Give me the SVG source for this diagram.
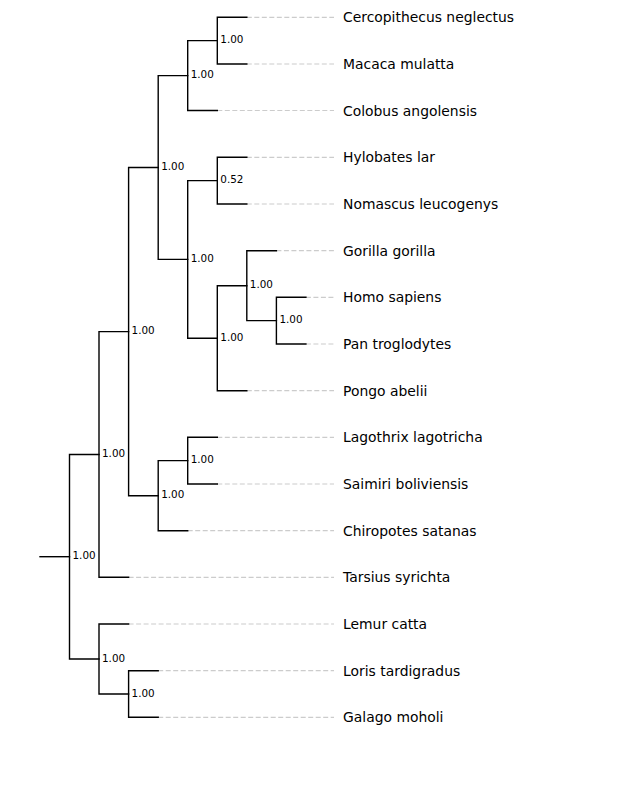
<svg xmlns="http://www.w3.org/2000/svg" width="640" height="797" viewBox="0 0 640 797">
<style>
.br{fill:none;stroke:#000;stroke-width:1.4;stroke-linecap:square;stroke-linejoin:miter}
.gd{fill:none;stroke:#cccccc;stroke-width:1.2;stroke-dasharray:5,2.5}
.lf{font-family:"DejaVu Sans",sans-serif;font-size:13.9px;fill:#000}
.sp{font-family:"DejaVu Sans",sans-serif;font-size:10.4px;fill:#000}
</style>
<rect width="640" height="797" fill="#fff"/>
<g id="connectors">
<g id="guides">
<path class="gd" d="M246.8,17.3H334"/>
<path class="gd" d="M246.8,64H334"/>
<path class="gd" d="M217.3,110.5H334"/>
<path class="gd" d="M246.8,157.3H334"/>
<path class="gd" d="M246.8,204H334"/>
<path class="gd" d="M276.4,250.7H334"/>
<path class="gd" d="M305.9,297.3H334"/>
<path class="gd" d="M305.9,344H334"/>
<path class="gd" d="M246.8,390.7H334"/>
<path class="gd" d="M217.3,437.3H334"/>
<path class="gd" d="M217.3,484H334"/>
<path class="gd" d="M187.7,530.7H334"/>
<path class="gd" d="M128.6,577.3H334"/>
<path class="gd" d="M128.6,624H334"/>
<path class="gd" d="M158.2,670.7H334"/>
<path class="gd" d="M158.2,717.3H334"/>
</g>
<g id="branches">
<path class="br" d="M40,556.7H69.5"/>
<path class="br" d="M99,454.45H69.5V659H99"/>
<path class="br" d="M128.6,331.6H99V577.3H128.6"/>
<path class="br" d="M128.6,624H99V694H128.6"/>
<path class="br" d="M158.2,167.5H128.6V495.7H158.2"/>
<path class="br" d="M158.2,670.7H128.6V717.3H158.2"/>
<path class="br" d="M187.7,75.6H158.2V259.4H187.7"/>
<path class="br" d="M187.7,460.65H158.2V530.7H187.7"/>
<path class="br" d="M217.3,40.65H187.7V110.5H217.3"/>
<path class="br" d="M217.3,180.65H187.7V338.2H217.3"/>
<path class="br" d="M217.3,437.3H187.7V484H217.3"/>
<path class="br" d="M246.8,17.3H217.3V64H246.8"/>
<path class="br" d="M246.8,157.3H217.3V204H246.8"/>
<path class="br" d="M246.8,285.7H217.3V390.7H246.8"/>
<path class="br" d="M276.4,250.7H246.8V320.65H276.4"/>
<path class="br" d="M305.9,297.3H276.4V344H305.9"/>
</g>
</g>
<g id="internal-nodes">
<g id="n-root"><text class="sp" x="72.5" y="559.4">1.00</text></g>
<g id="n-A"><text class="sp" x="102" y="457.2">1.00</text></g>
<g id="n-B"><text class="sp" x="102" y="661.7">1.00</text></g>
<g id="n-C"><text class="sp" x="131.6" y="334.3">1.00</text></g>
<g id="n-N"><text class="sp" x="131.6" y="696.7">1.00</text></g>
<g id="n-D"><text class="sp" x="161.2" y="170.2">1.00</text></g>
<g id="n-E"><text class="sp" x="161.2" y="498.4">1.00</text></g>
<g id="n-F"><text class="sp" x="190.7" y="78.3">1.00</text></g>
<g id="n-G"><text class="sp" x="190.7" y="262.1">1.00</text></g>
<g id="n-M"><text class="sp" x="190.7" y="463.4">1.00</text></g>
<g id="n-H"><text class="sp" x="220.3" y="43.4">1.00</text></g>
<g id="n-I"><text class="sp" x="220.3" y="183.4">0.52</text></g>
<g id="n-J"><text class="sp" x="220.3" y="340.9">1.00</text></g>
<g id="n-K"><text class="sp" x="249.8" y="288.4">1.00</text></g>
<g id="n-L"><text class="sp" x="279.4" y="323.4">1.00</text></g>
</g>
<g id="leaves">
<g id="leaf-cercopithecus"><text class="lf" x="343" y="22.3">Cercopithecus neglectus</text></g>
<g id="leaf-macaca"><text class="lf" x="343" y="69">Macaca mulatta</text></g>
<g id="leaf-colobus"><text class="lf" x="343" y="115.5">Colobus angolensis</text></g>
<g id="leaf-hylobates"><text class="lf" x="343" y="162.3">Hylobates lar</text></g>
<g id="leaf-nomascus"><text class="lf" x="343" y="209">Nomascus leucogenys</text></g>
<g id="leaf-gorilla"><text class="lf" x="343" y="255.7">Gorilla gorilla</text></g>
<g id="leaf-homo"><text class="lf" x="343" y="302.3">Homo sapiens</text></g>
<g id="leaf-pan"><text class="lf" x="343" y="349">Pan troglodytes</text></g>
<g id="leaf-pongo"><text class="lf" x="343" y="395.7">Pongo abelii</text></g>
<g id="leaf-lagothrix"><text class="lf" x="343" y="442.3">Lagothrix lagotricha</text></g>
<g id="leaf-saimiri"><text class="lf" x="343" y="489">Saimiri boliviensis</text></g>
<g id="leaf-chiropotes"><text class="lf" x="343" y="535.7">Chiropotes satanas</text></g>
<g id="leaf-tarsius"><text class="lf" x="343" y="582.3">Tarsius syrichta</text></g>
<g id="leaf-lemur"><text class="lf" x="343" y="629">Lemur catta</text></g>
<g id="leaf-loris"><text class="lf" x="343" y="675.7">Loris tardigradus</text></g>
<g id="leaf-galago"><text class="lf" x="343" y="722.3">Galago moholi</text></g>
</g>
</svg>
